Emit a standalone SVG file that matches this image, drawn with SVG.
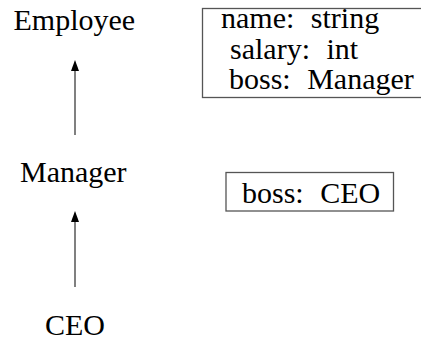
<svg xmlns="http://www.w3.org/2000/svg" width="421" height="339" viewBox="0 0 421 339">
<style>
.box{fill:none;stroke:#555;stroke-width:1.3}
.conn line{stroke:#808080;stroke-width:2}
.conn polygon{fill:#000}
</style>
<rect width="421" height="339" fill="#fff"/>
<g id="employee"><text font-family="Liberation Serif" font-size="30" x="13.5" y="30">Employee</text></g>
<g id="manager"><text font-family="Liberation Serif" font-size="30" x="20" y="181.5">Manager</text></g>
<g id="ceo"><text font-family="Liberation Serif" font-size="30" x="45" y="334.5">CEO</text></g>
<g id="employee-fields">
<rect class="box" x="202.5" y="8.5" width="230" height="89"/>
<text font-family="Liberation Serif" font-size="30" word-spacing="9" x="221" y="28">name: string</text>
<text font-family="Liberation Serif" font-size="30" word-spacing="9" x="230" y="58.5">salary: int</text>
<text font-family="Liberation Serif" font-size="30" word-spacing="9" x="229" y="89">boss: Manager</text>
</g>
<g id="manager-fields">
<rect class="box" x="226" y="172.5" width="167.5" height="38.5"/>
<text font-family="Liberation Serif" font-size="30" word-spacing="9" x="242" y="202.5">boss: CEO</text>
</g>
<g class="conn" id="connectors">
<line x1="75" y1="135" x2="75" y2="70"/>
<polygon points="75,60 71,71 79,71"/>
<line x1="75" y1="287" x2="75" y2="221"/>
<polygon points="75,211 71,222 79,222"/>
</g>
</svg>
